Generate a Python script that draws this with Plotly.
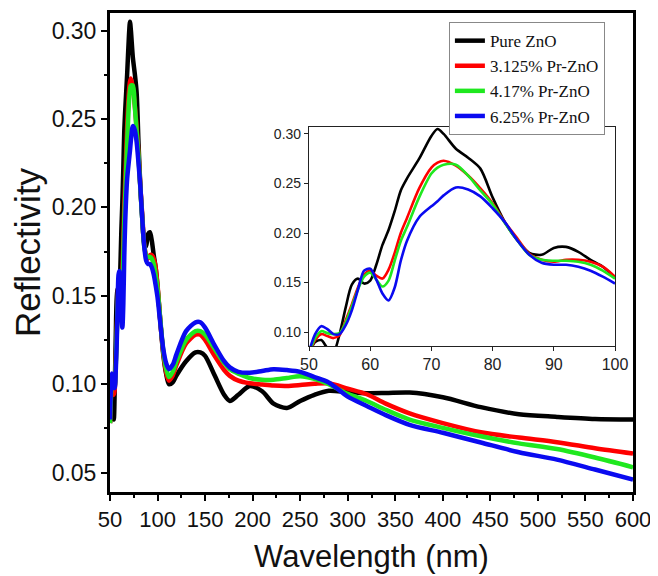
import plotly.graph_objects as go

# Wavelength grid (nm)
wavelength = [50, 51, 52, 53, 54, 55, 56, 57, 58, 59, 60, 61, 62, 63, 64, 65, 66, 68, 70, 71, 72, 74,
              76, 78, 80, 82, 84, 86, 88, 90, 92, 94, 96, 98, 100, 103, 106, 109, 112, 116, 120, 130,
              140, 145, 150, 160, 170, 176, 185, 197, 210, 222, 236, 250, 265, 280, 300, 320, 340, 365,
              400, 440, 480, 520, 560, 600]

pure_zno = [0.078, 0.090, 0.092, 0.084, 0.080, 0.098, 0.125, 0.148, 0.154, 0.149, 0.152, 0.168, 0.188,
            0.203, 0.222, 0.243, 0.255, 0.275, 0.298, 0.305, 0.300, 0.285, 0.276, 0.265, 0.236, 0.211,
            0.193, 0.180, 0.178, 0.185, 0.186, 0.181, 0.173, 0.166, 0.155, 0.135, 0.117, 0.106, 0.100,
            0.101, 0.105, 0.113, 0.118, 0.118, 0.116, 0.105, 0.094, 0.0905, 0.094, 0.099, 0.096, 0.089,
            0.0865, 0.0905, 0.094, 0.0963, 0.0955, 0.0949, 0.095, 0.0953, 0.0926, 0.087, 0.083, 0.0815,
            0.0803, 0.080]

pr_3125 = [0.078, 0.092, 0.098, 0.096, 0.094, 0.097, 0.112, 0.128, 0.145, 0.158, 0.162, 0.157, 0.154,
           0.163, 0.180, 0.200, 0.215, 0.245, 0.266, 0.271, 0.273, 0.268, 0.258, 0.245, 0.230, 0.211,
           0.195, 0.179, 0.173, 0.171, 0.173, 0.173, 0.171, 0.166, 0.156, 0.135, 0.118, 0.107, 0.102,
           0.105, 0.111, 0.123, 0.128, 0.128, 0.125, 0.116, 0.108, 0.1047, 0.102, 0.1005, 0.0998, 0.0992,
           0.099, 0.0995, 0.1002, 0.1005, 0.0975, 0.0943, 0.089, 0.0835, 0.078, 0.0728, 0.0698, 0.0672,
           0.0638, 0.0608]

pr_417 = [0.078, 0.094, 0.101, 0.099, 0.098, 0.099, 0.110, 0.126, 0.143, 0.156, 0.160, 0.153, 0.146,
          0.152, 0.172, 0.192, 0.206, 0.236, 0.260, 0.266, 0.269, 0.269, 0.258, 0.243, 0.229, 0.210,
          0.193, 0.178, 0.173, 0.172, 0.172, 0.171, 0.168, 0.162, 0.154, 0.136, 0.119, 0.109, 0.104,
          0.107, 0.113, 0.125, 0.130, 0.130, 0.128, 0.120, 0.112, 0.1085, 0.106, 0.1035, 0.1025, 0.1025,
          0.1035, 0.1045, 0.103, 0.100, 0.0945, 0.0905, 0.0855, 0.080, 0.0753, 0.0705, 0.0665, 0.0633,
          0.0585, 0.053]

pr_625 = [0.080, 0.098, 0.106, 0.103, 0.098, 0.098, 0.107, 0.122, 0.143, 0.162, 0.164, 0.153, 0.139,
          0.132, 0.145, 0.172, 0.192, 0.216, 0.227, 0.232, 0.238, 0.246, 0.244, 0.237, 0.225, 0.211,
          0.193, 0.178, 0.170, 0.168, 0.168, 0.166, 0.162, 0.156, 0.149, 0.134, 0.120, 0.112, 0.1085,
          0.111, 0.117, 0.130, 0.135, 0.135, 0.132, 0.122, 0.113, 0.1095, 0.107, 0.1065, 0.1075, 0.1085,
          0.108, 0.107, 0.104, 0.101, 0.093, 0.0877, 0.0825, 0.077, 0.0725, 0.067, 0.0615, 0.0573,
          0.0517, 0.046]

series_names = ["Pure ZnO", "3.125% Pr-ZnO", "4.17% Pr-ZnO", "6.25% Pr-ZnO"]
series_values = [pure_zno, pr_3125, pr_417, pr_625]
series_colors = ["#000000", "#ff0000", "#1fe81f", "#0a0af0"]

inset_min, inset_max = 50, 100

fig = go.Figure()

for name, vals, col in zip(series_names, series_values, series_colors):
    fig.add_trace(go.Scatter(
        x=wavelength, y=vals, mode="lines", name=name,
        line=dict(color=col, width=4.5, shape="spline", smoothing=0.8),
        xaxis="x", yaxis="y", showlegend=True,
    ))

for name, vals, col in zip(series_names, series_values, series_colors):
    xs = [w for w in wavelength if inset_min <= w <= inset_max]
    ys = [v for w, v in zip(wavelength, vals) if inset_min <= w <= inset_max]
    fig.add_trace(go.Scatter(
        x=xs, y=ys, mode="lines", name=name,
        line=dict(color=col, width=2.6, shape="spline", smoothing=0.8),
        xaxis="x2", yaxis="y2", showlegend=False,
    ))

axis_font = "Liberation Sans, Arial, sans-serif"

fig.update_layout(
    width=658, height=576,
    margin=dict(l=102, r=33, t=5, b=92, autoexpand=False),
    paper_bgcolor="white", plot_bgcolor="white",
    font=dict(family=axis_font, color="#111"),
    xaxis=dict(
        range=[50, 600], tick0=50, dtick=50, automargin=False,
        ticks="outside", ticklen=6, tickwidth=2, tickcolor="black",
        minor=dict(dtick=25, ticks="outside", ticklen=3, tickwidth=2, tickcolor="black"),
        showline=True, linewidth=3, linecolor="black", mirror=True,
        showgrid=False, zeroline=False,
        tickfont=dict(size=22, family=axis_font, color="#111"),
        title=dict(text="Wavelength (nm)", font=dict(size=31, family=axis_font, color="#111"), standoff=14),
    ),
    yaxis=dict(
        range=[0.039, 0.310], tick0=0.05, dtick=0.05, tickformat=".2f", automargin=False,
        ticks="outside", ticklen=6, tickwidth=2, tickcolor="black",
        minor=dict(dtick=0.025, ticks="outside", ticklen=3, tickwidth=2, tickcolor="black"),
        showline=True, linewidth=3, linecolor="black", mirror=True,
        showgrid=False, zeroline=False,
        tickfont=dict(size=23, family=axis_font, color="#111"),
        title=dict(text="Reflectivity", font=dict(size=35, family=axis_font, color="#111"), standoff=4),
    ),
    xaxis2=dict(
        domain=[0.3805, 0.9656], anchor="y2", automargin=False,
        range=[50, 100], tick0=50, dtick=10,
        ticks="outside", ticklen=4, tickwidth=1, tickcolor="#222",
        showline=True, linewidth=1.2, linecolor="#222", mirror=True,
        showgrid=False, zeroline=False,
        tickfont=dict(size=16, family=axis_font, color="#222"),
    ),
    yaxis2=dict(
        domain=[0.3048, 0.762], anchor="x2", automargin=False,
        range=[0.086, 0.307], tick0=0.10, dtick=0.05, tickformat=".2f",
        ticks="outside", ticklen=4, tickwidth=1, tickcolor="#222",
        showline=True, linewidth=1.2, linecolor="#222", mirror=True,
        showgrid=False, zeroline=False,
        tickfont=dict(size=14, family=axis_font, color="#222"),
    ),
    legend=dict(
        x=0.648, y=0.981, xanchor="left", yanchor="top",
        bgcolor="white", bordercolor="#888", borderwidth=1,
        font=dict(family="Liberation Serif, Times New Roman, serif", size=17, color="#111"),
        tracegroupgap=0,
    ),
)

fig.write_html("out.html")
